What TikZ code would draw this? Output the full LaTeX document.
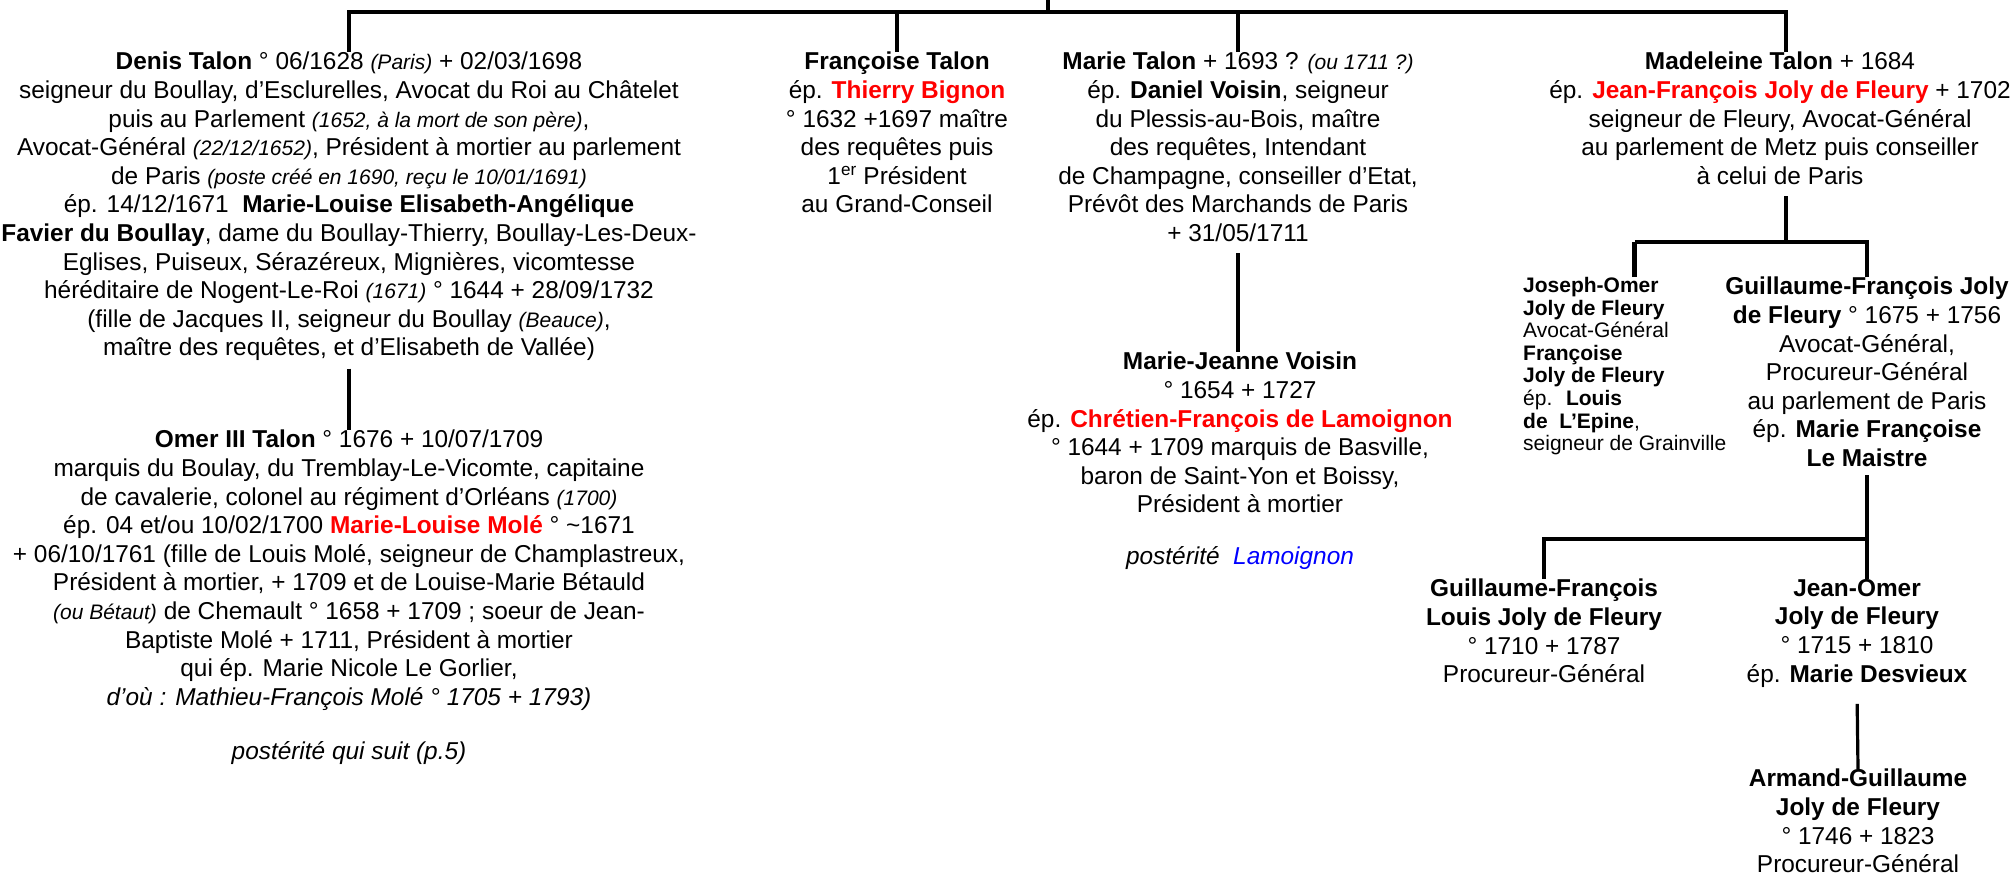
\documentclass[tikz,border=0pt]{standalone}
\usepackage{fontspec}
\setmainfont{Liberation Sans}
\usepackage{xcolor}
\newcommand{\petit}[1]{{\fontsize{21}{28.6}\selectfont\itshape #1}}
\newcommand{\rouge}[1]{\textcolor{red}{\textbf{#1}}}

\begin{document}
\begin{tikzpicture}[x=1pt,y=-1pt,
	person/.style={align=center, anchor=north, inner sep=0pt,
		font=\fontsize{24.4}{28.6}\selectfont,
		execute at begin node=\strut, execute at end node=\strut},
	small person/.style={person, align=left, anchor=north west,
		font=\fontsize{21}{22.6}\selectfont},
	link/.style={line width=3.2pt}]
	\useasboundingbox (0,0) rectangle (2012,876);
	\coordinate (root) at (1048,0);
	\coordinate (bus) at (1048,12);
	\coordinate (mbus) at (1786,242);
	\coordinate (gbus) at (1867,539);

	\node[person] (denis) at (349,52) {\textbf{Denis Talon} ° 06/1628 \petit{(Paris)} + 02/03/1698\\
		seigneur du Boullay, d’Esclurelles, Avocat du Roi au Châtelet\\
		puis au Parlement \petit{(1652, à la mort de son père)},\\
		Avocat-Général \petit{(22/12/1652)}, Président à mortier au parlement\\
		de Paris \petit{(poste créé en 1690, reçu le 10/01/1691)}\\
		ép. 14/12/1671 \ \textbf{Marie-Louise Elisabeth-Angélique}\\
		\textbf{Favier du Boullay}, dame du Boullay-Thierry, Boullay-Les-Deux-\\
		Eglises, Puiseux, Sérazéreux, Mignières, vicomtesse\\
		héréditaire de Nogent-Le-Roi \petit{(1671)} ° 1644 + 28/09/1732\\
		(fille de Jacques II, seigneur du Boullay \petit{(Beauce)},\\
		maître des requêtes, et d’Elisabeth de Vallée)};
	\node[person] (omer) at (349,430) {\textbf{Omer III Talon} ° 1676 + 10/07/1709\\
		marquis du Boulay, du Tremblay-Le-Vicomte, capitaine\\
		de cavalerie, colonel au régiment d’Orléans \petit{(1700)}\\
		ép. 04 et/ou 10/02/1700 \rouge{Marie-Louise Molé} ° \textasciitilde1671\\
		+ 06/10/1761 (fille de Louis Molé, seigneur de Champlastreux,\\
		Président à mortier, + 1709 et de Louise-Marie Bétauld\\
		\petit{(ou Bétaut)} de Chemault ° 1658 + 1709 ; soeur de Jean-\\
		Baptiste Molé + 1711, Président à mortier\\
		qui ép. Marie Nicole Le Gorlier,\\
		\textit{d’où : Mathieu-François Molé ° 1705 + 1793)}\\[26pt]
		\textit{postérité qui suit (p.5)}};
	\node[person] (francoise) at (897,52) {\textbf{Françoise Talon}\\
		ép. \rouge{Thierry Bignon}\\
		° 1632 +1697 maître\\
		des requêtes puis\\
		1\textsuperscript{er} Président\\
		au Grand-Conseil};
	\node[person] (marie) at (1238,52) {\textbf{Marie Talon} + 1693 ? \petit{(ou 1711 ?)}\\
		ép. \textbf{Daniel Voisin}, seigneur\\
		du Plessis-au-Bois, maître\\
		des requêtes, Intendant\\
		de Champagne, conseiller d’Etat,\\
		Prévôt des Marchands de Paris\\
		+ 31/05/1711};
	\node[person] (jeanne) at (1240,352) {\textbf{Marie-Jeanne Voisin}\\
		° 1654 + 1727\\
		ép. \rouge{Chrétien-François de Lamoignon}\\
		° 1644 + 1709 marquis de Basville,\\
		baron de Saint-Yon et Boissy,\\
		Président à mortier\\[23pt]
		\textit{postérité \ \textcolor{blue}{Lamoignon}}};
	\node[person] (madeleine) at (1780,52) {\textbf{Madeleine Talon} + 1684\\
		ép. \rouge{Jean-François Joly de Fleury} + 1702\\
		seigneur de Fleury, Avocat-Général\\
		au parlement de Metz puis conseiller\\
		à celui de Paris};
	\node[small person] (joseph) at (1523,277) {\textbf{Joseph-Omer}\\
		\textbf{Joly de Fleury}\\
		Avocat-Général\\
		\textbf{Françoise}\\
		\textbf{Joly de Fleury}\\
		ép. \ \textbf{Louis}\\
		\textbf{de \ L’Epine},\\
		seigneur de Grainville};
	\node[person] (gf) at (1867,277) {\textbf{Guillaume-François Joly}\\
		\textbf{de Fleury} ° 1675 + 1756\\
		Avocat-Général,\\
		Procureur-Général\\
		au parlement de Paris\\
		ép. \textbf{Marie Françoise}\\
		\textbf{Le Maistre}};
	\node[person] (gfl) at (1544,579) {\textbf{Guillaume-François}\\
		\textbf{Louis Joly de Fleury}\\
		° 1710 + 1787\\
		Procureur-Général};
	\node[person] (jean) at (1857,579) {\textbf{Jean-Omer}\\
		\textbf{Joly de Fleury}\\
		° 1715 + 1810\\
		ép. \textbf{Marie Desvieux}};
	\node[person] (armand) at (1858,769) {\textbf{Armand-Guillaume}\\
		\textbf{Joly de Fleury}\\
		° 1746 + 1823\\
		Procureur-Général};

	\coordinate (jdrop) at ([xshift=10pt]joseph.north);
	\coordinate (mdrop) at ([xshift=6pt]madeleine.north);
	\draw[link] (root) -- (bus);
	\draw[link] (denis.north) |- (bus) -| (mdrop);
	\draw[link] (francoise.north) -- (francoise.north|-bus);
	\draw[link] (marie.north) -- (marie.north|-bus);
	\draw[link, shorten <=4pt] (denis.south) -- (omer.north);
	\draw[link, shorten <=3pt] (marie.south) -- (marie.south|-jeanne.north);
	\draw[link, shorten <=3pt] (mdrop|-madeleine.south) -- (mbus);
	\draw[link, line width=4.8pt] (jdrop) -- (jdrop|-mbus);
	\draw[link] (jdrop|-mbus) -| (gf.north);
	\draw[link] (gf.south) -- (gf.south|-jean.north);
	\draw[link] (gfl.north) |- (gbus);
	\draw[link, shorten <=13pt] (jean.south) -- (armand.north);
\end{tikzpicture}
\end{document}
